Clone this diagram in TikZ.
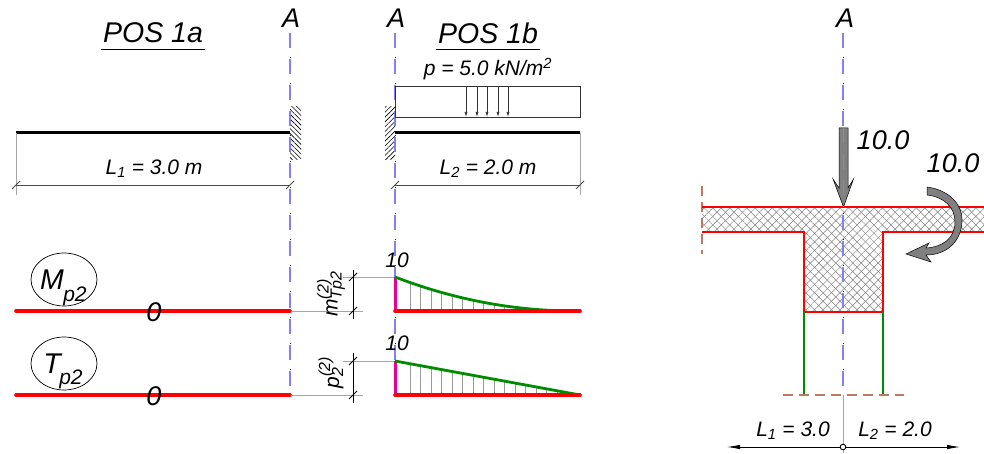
\documentclass[tikz,border=0pt]{standalone}
\usepackage{fontspec}
\setmainfont{Liberation Sans}
\usetikzlibrary{patterns.meta, arrows.meta, shapes.geometric}
\definecolor{dashbrown}{RGB}{190,120,100}

\begin{document}
\begin{tikzpicture}[
        x=1pt, y=-1pt,
        font=\itshape,
        bigtext/.style={font=\fontsize{27}{30}\selectfont\itshape, inner sep=0pt},
        titletext/.style={font=\fontsize{28.5}{30}\selectfont\itshape, inner sep=0pt},
        midtext/.style={font=\fontsize{21}{24}\selectfont\itshape, inner sep=0pt},
        axisdash/.style={draw=blue!50, line width=1.1pt, dash pattern=on 15pt off 11pt},
        axisdot/.style={draw=blue!90!black, line width=0.9pt, dash pattern=on 1pt off 25pt, dash phase=2pt},
        beamline/.style={line width=3pt, draw=black},
        thinline/.style={draw=black!80, line width=0.7pt},
        dimline/.style={draw=black!70, line width=0.8pt},
        extline/.style={draw=black!35, line width=1pt},
        redline/.style={draw=red, line width=3.6pt, line cap=round},
        greenline/.style={draw=green!55!black, line width=2.8pt},
        magline/.style={draw=magenta, line width=3pt},
        hatchline/.style={draw=black!40, line width=0.9pt},
        brownline/.style={draw=dashbrown, line width=1.2pt, dash pattern=on 10pt off 6pt},
        sectionline/.style={draw=red, line width=2.4pt},
        wallhatch/.style={pattern={Lines[angle=#1, distance=3.4pt, line width=0.6pt]}, pattern color=black},
        crosshatch/.style={pattern={Lines[angle=#1, distance=6pt, line width=0.5pt]}, pattern color=black!50},
        forcearrow/.style={draw=black, line width=0.5pt, fill=black!50},
        labelcircle/.style={draw=black, line width=0.7pt, ellipse, inner sep=0pt, minimum width=66pt, minimum height=53pt}
    ]
    \useasboundingbox (0, 0) rectangle (984, 454);

    % --- Walls ---
    \fill[wallhatch=-45] (290, 107) rectangle (301, 160);
    \fill[wallhatch=45] (385, 107) rectangle (395, 160);

    % --- Axes ---
    \draw[axisdash] (290, 33) -- (290, 395);
    \draw[axisdot] (290, 33) -- (290, 395);
    \draw[axisdash] (395, 33) -- (395, 361);
    \draw[axisdot] (395, 33) -- (395, 361);

    \node[bigtext] (axis_a1) at (291, 18) {A};
    \node[bigtext] (axis_a2) at (396, 18) {A};
    \node[bigtext] (axis_a3) at (845, 18) {A};

    % --- Group POS 1a (Top Left) ---
    \node[titletext] (title_a) at (153, 33) {POS 1a};
    \draw[line width=0.8pt] (101, 49) -- (205, 49);

    % Beam
    \draw[beamline] (16, 133) -- (290, 133);

    % Dimension
    \draw[extline] (16, 133) -- (16, 195);
    \draw[dimline] (16, 185) -- (290, 185);
    \draw[dimline] (12, 189) -- (20, 181);
    \draw[dimline] (286, 189) -- (294, 181);
    \node[midtext] (len_a) at (154, 169) {L\textsubscript{1} = 3.0 m};

    % --- Group POS 1b (Top Right) ---
    \node[titletext] (title_b) at (488, 33) {POS 1b};
    \draw[line width=0.8pt] (436, 49) -- (540, 49);
    \node[midtext] (load_b) at (488, 69) {p = 5.0 kN/m\textsuperscript{2}};

    % Load
    \draw[thinline] (395, 86) rectangle (580, 117);
    \draw[thinline, -{Latex[length=5pt, width=3pt]}] (466, 86) -- (466, 117);
    \draw[thinline, -{Latex[length=5pt, width=3pt]}] (477, 86) -- (477, 117);
    \draw[thinline, -{Latex[length=5pt, width=3pt]}] (487, 86) -- (487, 117);
    \draw[thinline, -{Latex[length=5pt, width=3pt]}] (498, 86) -- (498, 117);
    \draw[thinline, -{Latex[length=5pt, width=3pt]}] (508, 86) -- (508, 117);

    % Beam
    \draw[beamline] (395, 133) -- (580, 133);

    % Dimension
    \draw[extline] (580, 133) -- (580, 195);
    \draw[dimline] (395, 185) -- (580, 185);
    \draw[dimline] (391, 189) -- (399, 181);
    \draw[dimline] (576, 189) -- (584, 181);
    \node[midtext] (len_b) at (488, 169) {L\textsubscript{2} = 2.0 m};

    % --- Group M (Middle) ---
    \node[labelcircle] (circle_m) at (64, 279.5) {};
    \node[titletext] (label_m) at (52, 280) {M};
    \node[midtext] (label_mp) at (75, 296) {p2};
    \draw[redline] (16, 311) -- (290, 311);
    \node[bigtext] (zero_m) at (154, 312) {0};

    \draw[extline] (291, 311) -- (363, 311);
    \draw[extline] (343, 277) -- (395, 277);
    \draw[line width=0.8pt] (353, 270) -- (353, 319);
    \draw[line width=0.8pt] (349, 281) -- (357, 273);
    \draw[line width=0.8pt] (349, 315) -- (357, 307);
    \node[midtext, rotate=90] (dim_m) at (331, 294) {m\rlap{\raisebox{9pt}{\fontsize{16}{16}\selectfont(2)}}\raisebox{-4pt}{\fontsize{16}{16}\selectfont Tp2}};
    \node[midtext] (ten_m) at (397, 260) {10};

    % Ordinates
    \foreach \i in {0,...,15} {
        \pgfmathsetmacro{\hx}{410 + 10.5*\i}
        \pgfmathsetmacro{\hy}{311 - 34*(1 - (\hx - 395)/180)^2}
        \draw[hatchline] (\hx, 311) -- (\hx, \hy);
    }
    \draw[magline] (395, 277) -- (395, 311);
    \draw[greenline] (395, 277) .. controls (455, 300) and (515, 311) .. (575, 311);
    \draw[redline] (395, 311) -- (580, 311);

    % --- Group T (Bottom) ---
    \node[labelcircle] (circle_t) at (64, 363.5) {};
    \node[titletext] (label_t) at (52, 364) {T};
    \node[midtext] (label_tp) at (71, 379) {p2};
    \draw[redline] (16, 395) -- (290, 395);
    \node[bigtext] (zero_t) at (154, 396) {0};

    \draw[extline] (291, 395) -- (363, 395);
    \draw[extline] (343, 361) -- (395, 361);
    \draw[line width=0.8pt] (353, 353) -- (353, 403);
    \draw[line width=0.8pt] (349, 365) -- (357, 357);
    \draw[line width=0.8pt] (349, 399) -- (357, 391);
    \node[midtext, rotate=90] (dim_t) at (331, 378) {p\rlap{\raisebox{9pt}{\fontsize{16}{16}\selectfont(2)}}\raisebox{-4pt}{\fontsize{16}{16}\selectfont 2}\hspace{12pt}};
    \node[midtext] (ten_t) at (397, 343) {10};

    % Ordinates
    \foreach \i in {0,...,16} {
        \pgfmathsetmacro{\hx}{410 + 10.5*\i}
        \pgfmathsetmacro{\hy}{395 - 34*(1 - (\hx - 395)/185)}
        \draw[hatchline] (\hx, 395) -- (\hx, \hy);
    }
    \draw[magline] (395, 361) -- (395, 395);
    \draw[greenline] (395, 361) -- (580, 395);
    \draw[redline] (395, 395) -- (580, 395);

    % --- Group Section (Right) ---
    \draw[brownline] (702, 186) -- (702, 254);

    % Hatch
    \fill[crosshatch=45] (702, 207) -- (984, 207) -- (984, 232) -- (883, 232) -- (883, 312) -- (804, 312) -- (804, 232) -- (702, 232) -- cycle;
    \fill[crosshatch=-45] (702, 207) -- (984, 207) -- (984, 232) -- (883, 232) -- (883, 312) -- (804, 312) -- (804, 232) -- (702, 232) -- cycle;

    % Outline
    \draw[sectionline] (702, 207) -- (984, 207);
    \draw[sectionline] (702, 232) -- (804, 232) -- (804, 312) -- (883, 312) -- (883, 232) -- (984, 232);

    % Axis
    \draw[axisdash] (843, 33) -- (843, 395);
    \draw[axisdot] (843, 33) -- (843, 395);

    % Columns
    \draw[greenline] (804, 312) -- (804, 395);
    \draw[greenline] (883, 312) -- (883, 395);
    \draw[brownline] (783, 395) -- (904, 395);

    % Forces
    \draw[forcearrow] (839, 128) -- (848, 128) -- (848, 188) -- (853.5, 179) -- (843.5, 207) -- (833, 179) -- (839, 188) -- cycle;
    \draw[axisdash] (843.5, 128) -- (843.5, 207);
    \node[bigtext] (force_n) at (883, 140) {10.0};
    \draw[forcearrow] (927, 187) .. controls (949, 190) and (962, 204) .. (962, 220)
        .. controls (962, 240) and (948, 255) .. (926, 255)
        -- (931, 262) -- (906, 254) -- (929, 243) -- (926, 248)
        .. controls (943, 247) and (955, 238) .. (955, 222)
        .. controls (955, 207) and (944, 197) .. (927, 195) -- cycle;
    \node[bigtext] (force_m) at (953, 163) {10.0};

    % Bottom dimension
    \draw[extline] (843, 395) -- (843, 453);
    \draw[line width=0.8pt, -{Latex[length=13pt, width=4.5pt]}] (843, 447) -- (960, 447);
    \draw[line width=0.8pt, -{Latex[length=13pt, width=4.5pt]}] (843, 447) -- (727, 447);
    \draw[line width=0.9pt, fill=white] (843, 447) circle (2.8);
    \node[midtext] (len_l) at (793, 431) {L\textsubscript{1} = 3.0};
    \node[midtext] (len_r) at (895, 431) {L\textsubscript{2} = 2.0};
\end{tikzpicture}
\end{document}
